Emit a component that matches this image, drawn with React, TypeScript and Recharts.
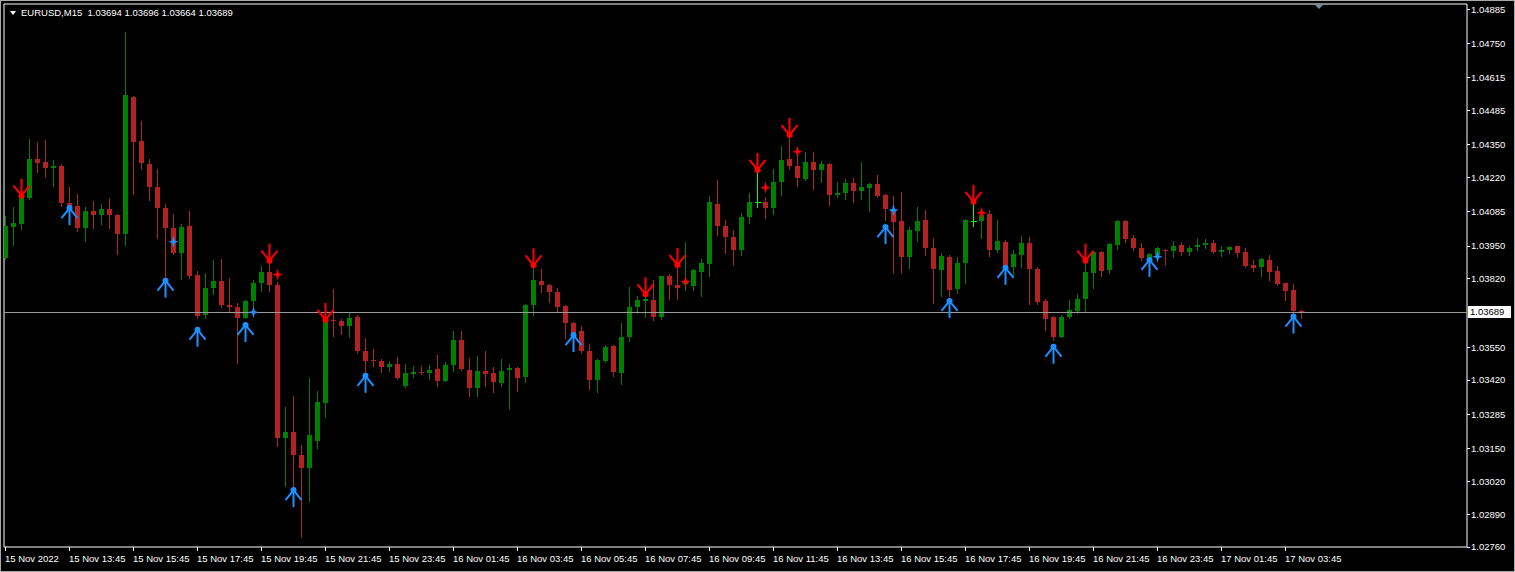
import React from 'react';
import {
  ComposedChart,
  Bar,
  Scatter,
  XAxis,
  YAxis,
  ReferenceLine,
  ReferenceArea,
} from 'recharts';

// EURUSD M15, bars from 15 Nov 11:45 to 17 Nov 04:15
const opens = [
  1.03903, 1.04026, 1.04038, 1.04141, 1.04294, 1.04282, 1.0426, 1.04266, 1.0412, 1.04108,
  1.04022, 1.04088, 1.04073, 1.04096, 1.04073, 1.03999, 1.0454, 1.04365, 1.04275, 1.04185,
  1.041, 1.04021, 1.03924, 1.04029, 1.03835, 1.03678, 1.03784, 1.03812, 1.03718, 1.0371,
  1.03667, 1.03733, 1.03805, 1.03847, 1.03797, 1.03192, 1.03215, 1.03124, 1.03072, 1.03179,
  1.03331, 1.03658, 1.03654, 1.03635, 1.03669, 1.03536, 1.03501, 1.03497, 1.03473, 1.03485,
  1.03398, 1.03445, 1.03453, 1.03448, 1.03464, 1.03418, 1.0348, 1.0358, 1.0346, 1.0339,
  1.03456, 1.03448, 1.0341, 1.0346, 1.03468, 1.03433, 1.03717, 1.03812, 1.03797, 1.03769,
  1.03712, 1.03647, 1.03614, 1.03536, 1.0342, 1.03497, 1.03555, 1.03449, 1.0359, 1.03709,
  1.03734, 1.03737, 1.03669, 1.03831, 1.03797, 1.038, 1.03792, 1.03847, 1.03879, 1.04116,
  1.04029, 1.03987, 1.03934, 1.04065, 1.04124, 1.04124, 1.041, 1.04203, 1.04294, 1.04266,
  1.04215, 1.04282, 1.04251, 1.04274, 1.04152, 1.0416, 1.04199, 1.04168, 1.04179, 1.04195,
  1.04152, 1.04088, 1.04049, 1.03907, 1.04009, 1.04053, 1.03942, 1.03855, 1.03907, 1.0378,
  1.03883, 1.04049, 1.04049, 1.04077, 1.03934, 1.03966, 1.03867, 1.03915, 1.03962, 1.03859,
  1.03733, 1.03669, 1.03592, 1.03669, 1.03693, 1.03741, 1.03843, 1.03926, 1.03855, 1.03954,
  1.04049, 1.03982, 1.03942, 1.03903, 1.03915, 1.03935, 1.0393, 1.03954, 1.03926, 1.03946,
  1.03954, 1.03962, 1.03926, 1.03934, 1.0395, 1.03926, 1.03875, 1.03867, 1.03895, 1.03851,
  1.03804, 1.03776, 1.03694,
];

const highs = [
  1.04069, 1.04104, 1.04152, 1.04373, 1.04361, 1.04369, 1.0429, 1.04275, 1.04183, 1.04156,
  1.04104, 1.04128, 1.04116, 1.0414, 1.04077, 1.04796, 1.04545, 1.04444, 1.04294, 1.04254,
  1.04116, 1.04077, 1.04037, 1.04088, 1.03851, 1.03843, 1.03895, 1.03899, 1.03825, 1.03724,
  1.03737, 1.03816, 1.03871, 1.03887, 1.03808, 1.03315, 1.03358, 1.03163, 1.03429, 1.03377,
  1.03665, 1.0378, 1.03661, 1.03685, 1.03677, 1.03585, 1.03544, 1.03505, 1.03497, 1.03512,
  1.03485, 1.03477, 1.03477, 1.0348, 1.03519, 1.03491, 1.03615, 1.03615, 1.03508, 1.03515,
  1.03536, 1.03472, 1.03503, 1.03484, 1.03473, 1.03721, 1.03863, 1.03859, 1.03801, 1.03784,
  1.03717, 1.0365, 1.03634, 1.03563, 1.03505, 1.03559, 1.03559, 1.03646, 1.03788, 1.03752,
  1.03752, 1.03816, 1.03833, 1.0384, 1.03863, 1.03966, 1.03859, 1.03899, 1.04148, 1.04211,
  1.04053, 1.04013, 1.04081, 1.0416, 1.04243, 1.04143, 1.04254, 1.04345, 1.04381, 1.0431,
  1.04322, 1.04322, 1.04286, 1.04278, 1.04203, 1.04215, 1.04219, 1.04282, 1.04199, 1.04231,
  1.04156, 1.04148, 1.04164, 1.04025, 1.04104, 1.04092, 1.03982, 1.03922, 1.03915, 1.03907,
  1.04057, 1.0412, 1.04092, 1.04092, 1.04053, 1.03974, 1.03934, 1.0399, 1.03986, 1.03867,
  1.03741, 1.03673, 1.03677, 1.03737, 1.0376, 1.03887, 1.0393, 1.0393, 1.03962, 1.04053,
  1.04053, 1.03994, 1.03962, 1.03922, 1.03946, 1.03938, 1.0397, 1.03966, 1.0395, 1.03982,
  1.03978, 1.03974, 1.0395, 1.0395, 1.0395, 1.03942, 1.03895, 1.03903, 1.03915, 1.03871,
  1.03804, 1.038, 1.03696,
];

const lows = [
  1.039, 1.03955, 1.04018, 1.04137, 1.04243, 1.04224, 1.04188, 1.04109, 1.041, 1.04009,
  1.03971, 1.04022, 1.04038, 1.04022, 1.0392, 1.03955, 1.04157, 1.04254, 1.04133, 1.03983,
  1.03827, 1.0392, 1.03821, 1.03825, 1.03665, 1.03665, 1.0376, 1.0371, 1.03694, 1.03489,
  1.03665, 1.03689, 1.03773, 1.03773, 1.03161, 1.03001, 1.02993, 1.02801, 1.02943, 1.03153,
  1.03275, 1.03595, 1.03603, 1.03592, 1.03528, 1.03452, 1.03477, 1.03453, 1.03457, 1.03426,
  1.03394, 1.03433, 1.03445, 1.03423, 1.03398, 1.03416, 1.03456, 1.0346, 1.03358, 1.03358,
  1.03398, 1.03374, 1.03398, 1.03307, 1.03378, 1.03414, 1.03678, 1.03769, 1.0373, 1.0369,
  1.03588, 1.03571, 1.03526, 1.03386, 1.03374, 1.03491, 1.03437, 1.03406, 1.03576, 1.03686,
  1.03671, 1.03658, 1.03661, 1.03742, 1.03742, 1.03776, 1.03776, 1.03752, 1.03831, 1.03994,
  1.03924, 1.03876, 1.03916, 1.04042, 1.04105, 1.04061, 1.04078, 1.04152, 1.04254, 1.04187,
  1.04211, 1.04175, 1.04203, 1.04112, 1.04144, 1.04136, 1.04124, 1.04136, 1.04088, 1.04144,
  1.04053, 1.03842, 1.03843, 1.03863, 1.0397, 1.03915, 1.03725, 1.03752, 1.03752, 1.03764,
  1.03804, 1.04029, 1.03982, 1.03911, 1.03926, 1.03863, 1.03835, 1.03867, 1.03721, 1.03721,
  1.03618, 1.03578, 1.0359, 1.03665, 1.03685, 1.03689, 1.03784, 1.03831, 1.03843, 1.03938,
  1.03966, 1.03934, 1.03895, 1.03895, 1.03903, 1.03876, 1.03907, 1.03915, 1.03915, 1.03934,
  1.03942, 1.03922, 1.03911, 1.03922, 1.03907, 1.03867, 1.03851, 1.03831, 1.03816, 1.03796,
  1.03737, 1.03685, 1.03664,
];

const closes = [
  1.04029, 1.04041, 1.04149, 1.04294, 1.04278, 1.0426, 1.04266, 1.0412, 1.04108, 1.04022,
  1.04088, 1.04073, 1.04096, 1.04073, 1.03999, 1.04547, 1.04361, 1.04278, 1.04185, 1.04101,
  1.04022, 1.03924, 1.04025, 1.03833, 1.03675, 1.03784, 1.03812, 1.03718, 1.0371, 1.03667,
  1.03733, 1.03805, 1.03847, 1.03797, 1.03192, 1.03215, 1.03124, 1.03072, 1.03203, 1.03333,
  1.03658, 1.03654, 1.03635, 1.03665, 1.03536, 1.03497, 1.03497, 1.03473, 1.03485, 1.03429,
  1.03449, 1.03453, 1.03448, 1.0346, 1.03418, 1.0348, 1.0358, 1.03464, 1.0339, 1.03456,
  1.03445, 1.03414, 1.03456, 1.03468, 1.03429, 1.03717, 1.03816, 1.03797, 1.03769, 1.0371,
  1.03647, 1.03586, 1.03536, 1.0342, 1.03501, 1.03551, 1.03453, 1.0359, 1.03709, 1.03737,
  1.03739, 1.03669, 1.03831, 1.03797, 1.03785, 1.03808, 1.03855, 1.03883, 1.04124, 1.04029,
  1.03987, 1.03934, 1.04065, 1.04124, 1.04124, 1.041, 1.04203, 1.0429, 1.04266, 1.04219,
  1.04282, 1.04251, 1.04274, 1.04152, 1.0416, 1.04199, 1.04168, 1.04183, 1.04195, 1.04148,
  1.04096, 1.04045, 1.03907, 1.04013, 1.04049, 1.03942, 1.03859, 1.03911, 1.03776, 1.03883,
  1.04053, 1.04049, 1.04073, 1.03934, 1.0397, 1.03871, 1.03918, 1.03962, 1.03859, 1.03729,
  1.03661, 1.0359, 1.03669, 1.03697, 1.03741, 1.03847, 1.03926, 1.03851, 1.03958, 1.04049,
  1.03978, 1.03942, 1.03903, 1.03918, 1.03942, 1.03932, 1.0395, 1.03926, 1.03942, 1.03954,
  1.03962, 1.03926, 1.03934, 1.03946, 1.03922, 1.03871, 1.03863, 1.03899, 1.03847, 1.038,
  1.03772, 1.03694, 1.03689,
];

// indicator signals: bar index + price
const sellIdx = [2, 33, 40, 66, 80, 84, 94, 98, 121, 135];
const sellPx = [1.04149, 1.03892, 1.03658, 1.03874, 1.03759, 1.03875, 1.04251, 1.04389, 1.04125, 1.03892];
const buyIdx = [8, 20, 24, 30, 36, 45, 71, 110, 118, 125, 131, 143, 161];
const buyPx = [1.041, 1.03813, 1.03619, 1.03638, 1.02985, 1.03437, 1.03598, 1.04025, 1.03733, 1.03864, 1.03552, 1.03895, 1.03671];
const redStarIdx = [34, 85, 95, 99, 122];
const redStarPx = [1.03837, 1.03809, 1.04181, 1.04323, 1.04081];
const blueStarIdx = [21, 31, 111, 144];
const blueStarPx = [1.03967, 1.03688, 1.04092, 1.03908];

const timeLabels = [
  '15 Nov 2022', '15 Nov 13:45', '15 Nov 15:45', '15 Nov 17:45', '15 Nov 19:45',
  '15 Nov 21:45', '15 Nov 23:45', '16 Nov 01:45', '16 Nov 03:45', '16 Nov 05:45',
  '16 Nov 07:45', '16 Nov 09:45', '16 Nov 11:45', '16 Nov 13:45', '16 Nov 15:45',
  '16 Nov 17:45', '16 Nov 19:45', '16 Nov 21:45', '16 Nov 23:45', '17 Nov 01:45',
  '17 Nov 03:45',
];
const timeTicks = timeLabels.map((_, n) => n * 8);

const priceTicks = [
  1.04885, 1.0475, 1.04615, 1.04485, 1.0435, 1.0422, 1.04085, 1.0395, 1.0382,
  1.03689, 1.0355, 1.0342, 1.03285, 1.0315, 1.0302, 1.0289, 1.0276,
];
const lastPrice = 1.03689;

const X_DOMAIN: [number, number] = [-0.1875, 182.6875];
const Y_DOMAIN: [number, number] = [1.0276, 1.04907];

const rows = opens.map((o, i) => ({ i, o, h: highs[i], l: lows[i], c: closes[i] }));
const toPoints = (idx: number[], px: number[]) => idx.map((i, n) => ({ i, v: px[n] }));

const BULL = '#008000';
const BEAR = '#b22222';
const DOJI = '#00ff00';
const FONT = "'Liberation Sans', Arial, sans-serif";

const Candle = (props: any) => {
  const { x, y, width, height, payload } = props;
  const { o, h, l, c } = payload;
  const top = Math.min(y, y + height);
  const span = Math.abs(height);
  const cx = Math.round(x + width / 2 - 0.5) + 0.5;
  const py = (p: number) => (h === l ? top : top + ((h - p) / (h - l)) * span);
  const color = c > o ? BULL : c < o ? BEAR : DOJI;
  const bTop = Math.round(py(Math.max(o, c)));
  const bBot = Math.round(py(Math.min(o, c)));
  return (
    <g shapeRendering="crispEdges">
      <line x1={cx} x2={cx} y1={Math.round(top)} y2={Math.round(top + span) + 1} stroke={color} />
      {c === o ? (
        <line x1={cx - 3} x2={cx + 3} y1={bTop + 0.5} y2={bTop + 0.5} stroke={color} />
      ) : (
        <rect x={cx - 2.5} y={bTop} width={5} height={Math.max(1, bBot - bTop)} fill={color} />
      )}
    </g>
  );
};

const SellArrow = ({ cx, cy }: any) => (
  <g stroke="#ff0000" strokeWidth={2} fill="none">
    <line x1={cx} y1={cy - 17} x2={cx} y2={cy} />
    <line x1={cx - 8} y1={cy - 10} x2={cx} y2={cy} />
    <line x1={cx + 8} y1={cy - 10} x2={cx} y2={cy} />
    <circle cx={cx} cy={cy} r={3} fill="#ff0000" stroke="none" />
  </g>
);

const BuyArrow = ({ cx, cy }: any) => (
  <g stroke="#1e90ff" strokeWidth={2} fill="none">
    <line x1={cx} y1={cy} x2={cx} y2={cy + 17} />
    <line x1={cx - 8} y1={cy + 10} x2={cx} y2={cy} />
    <line x1={cx + 8} y1={cy + 10} x2={cx} y2={cy} />
    <circle cx={cx} cy={cy} r={3} fill="#1e90ff" stroke="none" />
  </g>
);

const starPath = (cx: number, cy: number) =>
  [
    [0, -6], [1.3, -1.3], [5, 0], [1.3, 1.3], [0, 6], [-1.3, 1.3], [-5, 0], [-1.3, -1.3],
  ]
    .map(([dx, dy]) => `${cx + dx},${cy + dy}`)
    .join(' ');

const RedStar = ({ cx, cy }: any) => <polygon points={starPath(cx, cy)} fill="#ff0000" />;
const BlueStar = ({ cx, cy }: any) => <polygon points={starPath(cx, cy)} fill="#1e90ff" />;

const TimeTick = ({ x, y, payload }: any) => {
  const label = timeLabels[Math.round(payload.value / 8)];
  const tx = Math.round(x - 0.5) + 0.5;
  return (
    <g>
      <line x1={tx} x2={tx} y1={y} y2={y + 4} stroke="#fff" shapeRendering="crispEdges" />
      <text x={tx - 0.5} y={y + 15} fill="#fff" fontSize={9.5} fontFamily={FONT} textAnchor="start">
        {label}
      </text>
    </g>
  );
};

const PriceTick = ({ x, y, payload }: any) => {
  const v: number = payload.value;
  const yy = Math.round(y - 0.5) + 0.5;
  if (v === lastPrice) {
    return (
      <g>
        <rect x={x + 1} y={Math.round(y) - 6} width={43} height={12} fill="#fff" />
        <text x={x + 3} y={y + 3.4} fill="#000" fontSize={9.5} fontFamily={FONT}>
          {v.toFixed(5)}
        </text>
      </g>
    );
  }
  return (
    <g>
      <line x1={x} x2={x + 3} y1={yy} y2={yy} stroke="#fff" shapeRendering="crispEdges" />
      <text x={x + 4} y={y + 3.4} fill="#fff" fontSize={9.5} fontFamily={FONT}>
        {v.toFixed(5)}
      </text>
    </g>
  );
};

export default function App() {
  return (
    <div
      style={{
        position: 'absolute',
        left: 0,
        top: 0,
        width: 1515,
        height: 572,
        background: '#000',
        overflow: 'hidden',
      }}
    >
      <ComposedChart
        width={1515}
        height={572}
        data={rows}
        margin={{ top: 4, right: 0, bottom: 0, left: 4 }}
      >
        <XAxis
          type="number"
          dataKey="i"
          domain={X_DOMAIN}
          ticks={timeTicks}
          interval={0}
          allowDataOverflow
          height={25}
          axisLine={false}
          tickLine={false}
          tickSize={0}
          tickMargin={0}
          tick={(p: any) => <TimeTick {...p} />}
        />
        <YAxis
          type="number"
          orientation="right"
          domain={Y_DOMAIN}
          ticks={priceTicks}
          interval={0}
          allowDataOverflow
          width={48}
          axisLine={false}
          tickLine={false}
          tickSize={0}
          tickMargin={0}
          tick={(p: any) => <PriceTick {...p} />}
        />
        <ReferenceLine y={lastPrice} stroke="#9a9a9a" strokeWidth={1} shapeRendering="crispEdges" />
        <Bar
          dataKey={(d: any) => [d.l, d.h]}
          barSize={5}
          isAnimationActive={false}
          shape={(p: any) => <Candle {...p} />}
        />
        <Scatter
          data={toPoints(sellIdx, sellPx)}
          dataKey="v"
          isAnimationActive={false}
          shape={(p: any) => <SellArrow {...p} />}
        />
        <Scatter
          data={toPoints(buyIdx, buyPx)}
          dataKey="v"
          isAnimationActive={false}
          shape={(p: any) => <BuyArrow {...p} />}
        />
        <Scatter
          data={toPoints(redStarIdx, redStarPx)}
          dataKey="v"
          isAnimationActive={false}
          shape={(p: any) => <RedStar {...p} />}
        />
        <Scatter
          data={toPoints(blueStarIdx, blueStarPx)}
          dataKey="v"
          isAnimationActive={false}
          shape={(p: any) => <BlueStar {...p} />}
        />
        <ReferenceArea
          x1={X_DOMAIN[0]}
          x2={X_DOMAIN[1]}
          y1={Y_DOMAIN[0]}
          y2={Y_DOMAIN[1]}
          stroke="#fff"
          fill="none"
          fillOpacity={0}
          ifOverflow="visible"
        />
      </ComposedChart>

      {/* symbol / OHLC header */}
      <div
        style={{
          position: 'absolute',
          left: 10,
          top: 11,
          width: 0,
          height: 0,
          borderLeft: '3px solid transparent',
          borderRight: '3px solid transparent',
          borderTop: '4px solid #fff',
        }}
      />
      <div
        style={{
          position: 'absolute',
          left: 21,
          top: 8,
          color: '#fff',
          fontFamily: FONT,
          fontSize: 9.5,
          lineHeight: 1,
          whiteSpace: 'pre',
        }}
      >
        {'EURUSD,M15  1.03694 1.03696 1.03664 1.03689'}
      </div>
      {/* chart shift marker */}
      <div
        style={{
          position: 'absolute',
          left: 1314,
          top: 4,
          width: 0,
          height: 0,
          borderLeft: '5px solid transparent',
          borderRight: '5px solid transparent',
          borderTop: '5px solid #7a8896',
        }}
      />
      <div
        style={{
          position: 'absolute',
          inset: 0,
          border: '1px solid #a8a8a8',
          pointerEvents: 'none',
        }}
      />
    </div>
  );
}
